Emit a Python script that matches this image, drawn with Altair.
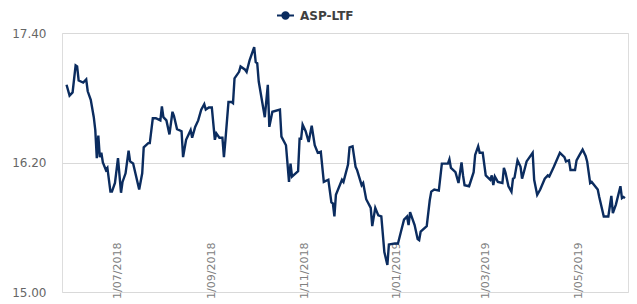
import altair as alt
import pandas as pd

dates = [
    "2018-05-28", "2018-05-30", "2018-06-01", "2018-06-03", "2018-06-04", "2018-06-05", "2018-06-08",
    "2018-06-10", "2018-06-11", "2018-06-13", "2018-06-15", "2018-06-16", "2018-06-17", "2018-06-18",
    "2018-06-19", "2018-06-20", "2018-06-21", "2018-06-23", "2018-06-24", "2018-06-26", "2018-06-27",
    "2018-06-29", "2018-07-01", "2018-07-03", "2018-07-04", "2018-07-06", "2018-07-08", "2018-07-09",
    "2018-07-11", "2018-07-15", "2018-07-17", "2018-07-18", "2018-07-21", "2018-07-22", "2018-07-24",
    "2018-07-26", "2018-07-29", "2018-07-30", "2018-07-31", "2018-08-02", "2018-08-04", "2018-08-06",
    "2018-08-07", "2018-08-09", "2018-08-12", "2018-08-13", "2018-08-15", "2018-08-18", "2018-08-19",
    "2018-08-21", "2018-08-23", "2018-08-25", "2018-08-27", "2018-08-28", "2018-08-30", "2018-09-01",
    "2018-09-03", "2018-09-04", "2018-09-06", "2018-09-08", "2018-09-09", "2018-09-10", "2018-09-12",
    "2018-09-14", "2018-09-15", "2018-09-16", "2018-09-19", "2018-09-20", "2018-09-23", "2018-09-24",
    "2018-09-26", "2018-09-29", "2018-09-30", "2018-10-01", "2018-10-02", "2018-10-06", "2018-10-08",
    "2018-10-09", "2018-10-11", "2018-10-16", "2018-10-17", "2018-10-20", "2018-10-22", "2018-10-23",
    "2018-10-24", "2018-10-28", "2018-10-29", "2018-10-30", "2018-10-31", "2018-11-02", "2018-11-04",
    "2018-11-06", "2018-11-08", "2018-11-10", "2018-11-12", "2018-11-14", "2018-11-17", "2018-11-19",
    "2018-11-20", "2018-11-21", "2018-11-22", "2018-11-26", "2018-11-27", "2018-11-30", "2018-12-01",
    "2018-12-03", "2018-12-05", "2018-12-06", "2018-12-09", "2018-12-10", "2018-12-12", "2018-12-15",
    "2018-12-16", "2018-12-18", "2018-12-20", "2018-12-22", "2018-12-24", "2018-12-26", "2018-12-27",
    "2018-12-31", "2019-01-02", "2019-01-04", "2019-01-06", "2019-01-08", "2019-01-09", "2019-01-10",
    "2019-01-13", "2019-01-15", "2019-01-16", "2019-01-17", "2019-01-21", "2019-01-23", "2019-01-24",
    "2019-01-26", "2019-01-29", "2019-01-31", "2019-02-04", "2019-02-05", "2019-02-06", "2019-02-09",
    "2019-02-11", "2019-02-13", "2019-02-14", "2019-02-15", "2019-02-18", "2019-02-21", "2019-02-22",
    "2019-02-24", "2019-02-25", "2019-02-27", "2019-03-01", "2019-03-04", "2019-03-05", "2019-03-06",
    "2019-03-07", "2019-03-09", "2019-03-12", "2019-03-13", "2019-03-14", "2019-03-16", "2019-03-18",
    "2019-03-19", "2019-03-20", "2019-03-22", "2019-03-24", "2019-03-25", "2019-03-26", "2019-03-28",
    "2019-04-01", "2019-04-02", "2019-04-04", "2019-04-06", "2019-04-09", "2019-04-11", "2019-04-12",
    "2019-04-15", "2019-04-19", "2019-04-22", "2019-04-23", "2019-04-25", "2019-04-26", "2019-04-29",
    "2019-04-30", "2019-05-02", "2019-05-04", "2019-05-06", "2019-05-07", "2019-05-09", "2019-05-10",
    "2019-05-14", "2019-05-15", "2019-05-18", "2019-05-21", "2019-05-23", "2019-05-24", "2019-05-26",
    "2019-05-29", "2019-05-30", "2019-05-31", "2019-06-01",
]

values = [
    16.92, 16.82, 16.85, 17.10, 17.09, 16.96, 16.94,
    16.97, 16.86, 16.78, 16.62, 16.50, 16.24, 16.45,
    16.25, 16.29, 16.20, 16.13, 16.15, 15.93, 15.93,
    16.01, 16.24, 15.92, 16.02, 16.10, 16.31, 16.21,
    16.19, 15.95, 16.10, 16.34, 16.38, 16.38, 16.61,
    16.61, 16.59, 16.72, 16.62, 16.59, 16.46, 16.67,
    16.63, 16.51, 16.49, 16.25, 16.41, 16.50, 16.43,
    16.53, 16.59, 16.69, 16.74, 16.69, 16.71, 16.71,
    16.41, 16.47, 16.43, 16.43, 16.25, 16.41, 16.76,
    16.76, 16.75, 16.98, 17.04, 17.09, 17.06, 17.04,
    17.15, 17.27, 17.13, 17.12, 16.95, 16.62, 16.92,
    16.53, 16.67, 16.69, 16.44, 16.36, 16.02, 16.19,
    16.07, 16.12, 16.42, 16.42, 16.55, 16.49, 16.39,
    16.54, 16.36, 16.29, 16.30, 16.02, 16.04, 15.83,
    15.82, 15.70, 15.90, 16.04, 16.02, 16.18, 16.34,
    16.35, 16.16, 16.13, 15.99, 16.01, 15.86, 15.78,
    15.61, 15.78, 15.71, 15.70, 15.37, 15.25, 15.44,
    15.45, 15.45, 15.56, 15.67, 15.70, 15.62, 15.74,
    15.62, 15.49, 15.48, 15.56, 15.61, 15.85, 15.93,
    15.95, 15.94, 16.19, 16.19, 16.23, 16.15, 16.11,
    16.01, 16.20, 16.08, 15.99, 15.98, 16.11, 16.27,
    16.35, 16.29, 16.29, 16.08, 16.04, 16.08, 15.99,
    16.07, 16.02, 16.01, 16.15, 16.11, 15.98, 15.93,
    16.05, 16.06, 16.22, 16.16, 16.05, 16.10, 16.21,
    16.29, 16.04, 15.90, 15.95, 16.05, 16.08, 16.07,
    16.16, 16.29, 16.25, 16.21, 16.22, 16.13, 16.13,
    16.22, 16.27, 16.32, 16.26, 16.21, 16.01, 16.02,
    15.95, 15.88, 15.70, 15.70, 15.89, 15.73, 15.81,
    15.98, 15.87, 15.88, 15.87,
]

series_name = "ASP-LTF"
y_ticks = [15.0, 16.2, 17.4]
x_tick_dates = [(2018, 7), (2018, 9), (2018, 11), (2019, 1), (2019, 3), (2019, 5)]

df = pd.DataFrame({"date": dates, "value": values, "series": series_name})

line_color = "#0b2c5f"
legend_symbol = "M-1,0H1M-0.38,0a0.38,0.38 0 1,0 0.76,0a0.38,0.38 0 1,0 -0.76,0Z"

chart = alt.Chart(df).mark_line(strokeWidth=2.4, interpolate="linear").encode(
    x=alt.X(
        "date:T",
        scale=alt.Scale(
            type="utc",
            domain=[alt.DateTime(year=2018, month=5, date=25, utc=True),
                    alt.DateTime(year=2019, month=6, date=3, utc=True)],
        ),
        axis=alt.Axis(
            values=[alt.DateTime(year=y, month=m, date=1, utc=True) for y, m in x_tick_dates],
            labelExpr="utcFormat(datum.value, '%-d/%m/%Y')",
            labelAngle=-90,
            labelPadding=-50,
            ticks=False,
            domain=False,
            grid=False,
            title=None,
            labelFont="DejaVu Sans",
            labelFontSize=11,
            labelColor="#808080",
            labelOverlap=False,
            labelBound=False,
        ),
    ),
    y=alt.Y(
        "value:Q",
        scale=alt.Scale(domain=[15.0, 17.4], nice=False, zero=False),
        axis=alt.Axis(
            values=y_ticks,
            format=".2f",
            ticks=False,
            domain=False,
            grid=True,
            gridColor="#d9d9d9",
            gridWidth=1,
            title=None,
            labelPadding=16,
            labelFont="DejaVu Sans",
            labelFontSize=12,
            labelColor="#666666",
        ),
    ),
    color=alt.Color(
        "series:N",
        scale=alt.Scale(range=[line_color]),
        legend=alt.Legend(
            title=None,
            orient="none",
            legendX=214,
            legendY=-27,
            padding=0,
            symbolType=legend_symbol,
            symbolSize=289,
            symbolStrokeWidth=2,
            symbolFillColor=line_color,
            symbolStrokeColor=line_color,
            labelFont="DejaVu Sans",
            labelFontWeight="bold",
            labelFontSize=12,
            labelColor="#404040",
            labelOffset=5,
        ),
    ),
).properties(
    width=566,
    height=259,
    autosize=alt.AutoSizeParams(type="none"),
    padding={"left": 54, "top": 25, "right": 1, "bottom": 10},
).configure_view(
    stroke="#d9d9d9",
    strokeWidth=1,
).configure(background="white")

chart.save("out.html", embed_options={"renderer": "svg", "actions": False})
